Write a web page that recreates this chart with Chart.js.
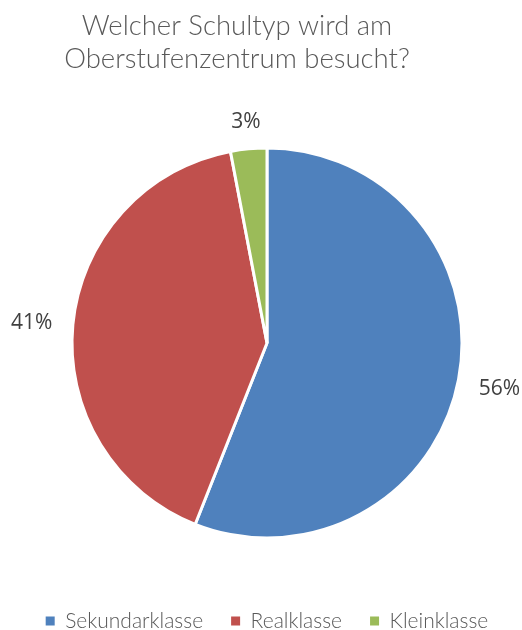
<!DOCTYPE html>
<html>
<head>
<meta charset="utf-8">
<script src="https://cdn.jsdelivr.net/npm/chart.js@4"></script>
<style>
  html, body { margin: 0; padding: 0; background: #fff; }
  #wrap { width: 522px; height: 630px; }
</style>
</head>
<body>
<div id="wrap"><canvas id="schulChart" width="522" height="630"></canvas></div>
<script>
const categories = ['Sekundarklasse', 'Realklasse', 'Kleinklasse'];
const shares = [56, 41, 3];
const sliceColors = ['#4F81BD', '#C0504D', '#9BBB59'];
const titleLines = ['Welcher Schultyp wird am', 'Oberstufenzentrum besucht?'];

// title sits a bit left of centre in the original, so draw it by hand
const titleText = {
    id: 'titleText',
    afterDraw(chart) {
        const ctx = chart.ctx;
        ctx.save();
        ctx.font = '300 27.5px Lato, sans-serif';
        ctx.fillStyle = '#595959';
        ctx.textAlign = 'center';
        ctx.textBaseline = 'alphabetic';
        ctx.fillText(titleLines[0], 237, 35);
        ctx.fillText(titleLines[1], 237, 68);
        ctx.restore();
    }
};

// percent labels outside each slice
const outsideLabels = {
    id: 'outsideLabels',
    afterDatasetsDraw(chart) {
        const ctx = chart.ctx;
        const meta = chart.getDatasetMeta(0);
        ctx.save();
        ctx.font = '21px "Open Sans", sans-serif';
        ctx.fillStyle = '#404040';
        ctx.textAlign = 'center';
        ctx.textBaseline = 'middle';
        meta.data.forEach((arc, i) => {
            const p = arc.getProps(['x', 'y', 'startAngle', 'endAngle', 'outerRadius'], true);
            const mid = (p.startAngle + p.endAngle) / 2;
            const text = shares[i] + '%';
            const halfW = ctx.measureText(text).width / 2;
            const halfH = 7.5;
            const d = p.outerRadius + 20 + halfW * Math.abs(Math.cos(mid)) + halfH * Math.abs(Math.sin(mid));
            ctx.fillText(text, p.x + Math.cos(mid) * d, p.y + Math.sin(mid) * d + 2);
        });
        ctx.restore();
    }
};

const defaultLabels = Chart.overrides.pie.plugins.legend.labels.generateLabels;

new Chart(document.getElementById('schulChart').getContext('2d'), {
    type: 'pie',
    data: {
        labels: categories,
        datasets: [{
            data: shares,
            backgroundColor: sliceColors,
            borderColor: '#ffffff',
            borderWidth: 3
        }]
    },
    options: {
        responsive: false,
        animation: false,
        radius: 195,
        layout: { padding: { left: 12, right: 0, top: 103.5, bottom: -11.5 } },
        plugins: {
            title: { display: false },
            legend: {
                position: 'bottom',
                labels: {
                    color: '#595959',
                    font: { size: 21, family: 'Lato, sans-serif', weight: '300' },
                    usePointStyle: true,
                    pointStyle: 'rect',
                    boxWidth: 9,
                    boxHeight: 9,
                    padding: 28,
                    // no white outline on the legend squares
                    generateLabels: (chart) => defaultLabels(chart).map(item => ({ ...item, lineWidth: 0 }))
                }
            },
            tooltip: { enabled: false }
        }
    },
    plugins: [outsideLabels, titleText]
});
</script>
</body>
</html>
